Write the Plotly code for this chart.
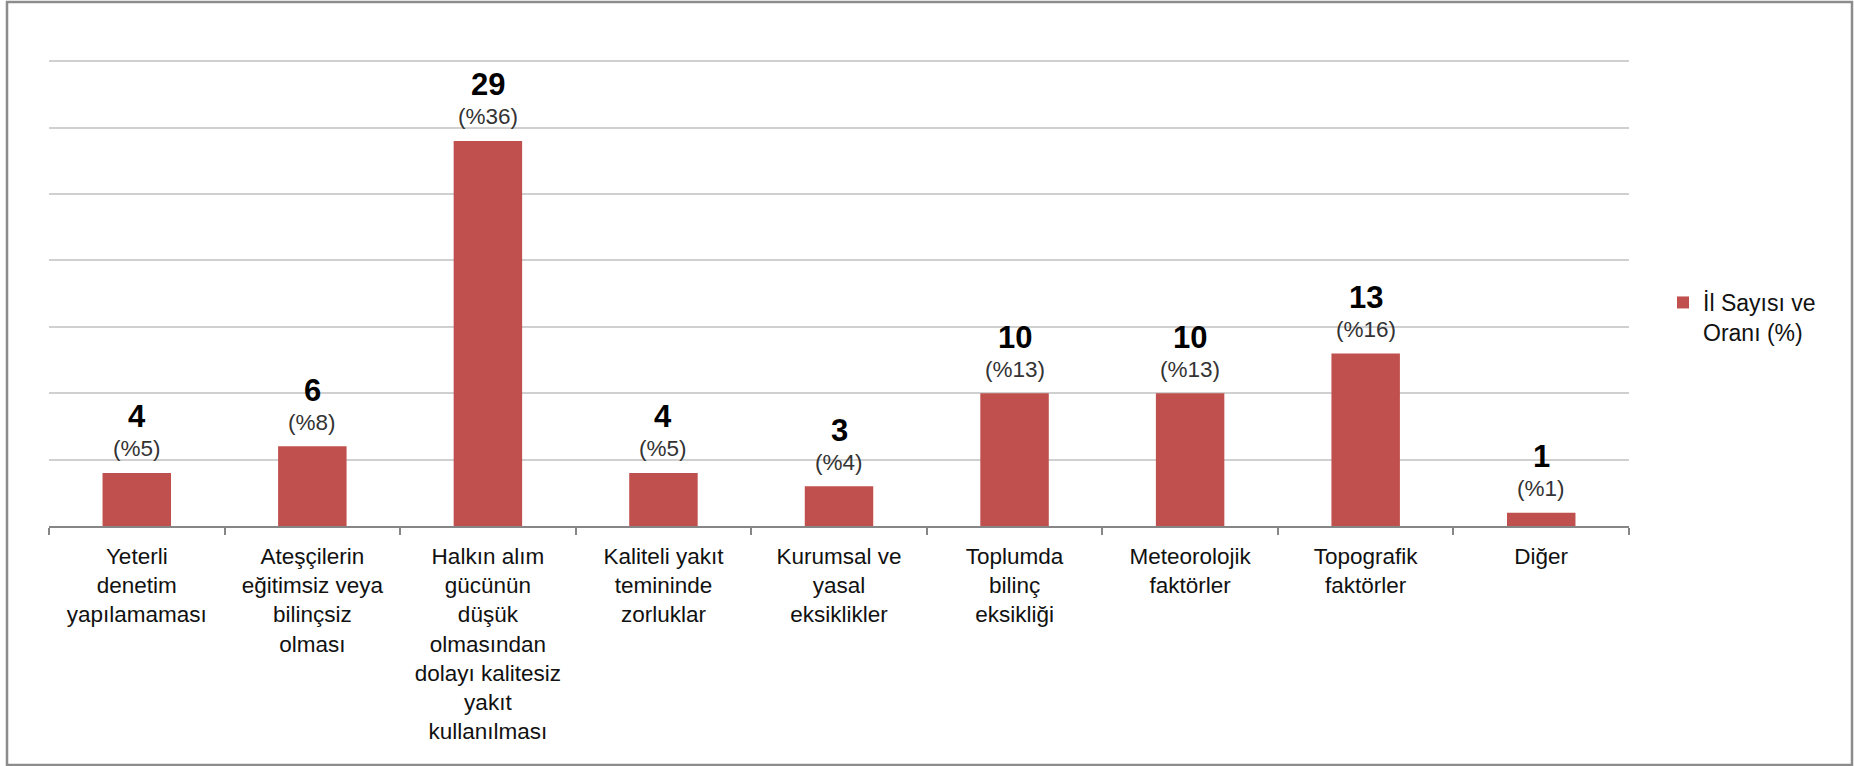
import plotly.graph_objects as go

categories = [
    "Yeterli<br>denetim<br>yapılamaması",
    "Ateşçilerin<br>eğitimsiz veya<br>bilinçsiz<br>olması",
    "Halkın alım<br>gücünün<br>düşük<br>olmasından<br>dolayı kalitesiz<br>yakıt<br>kullanılması",
    "Kaliteli yakıt<br>temininde<br>zorluklar",
    "Kurumsal ve<br>yasal<br>eksiklikler",
    "Toplumda<br>bilinç<br>eksikliği",
    "Meteorolojik<br>faktörler",
    "Topografik<br>faktörler",
    "Diğer",
]
counts = [4, 6, 29, 4, 3, 10, 10, 13, 1]
percents = [5, 8, 36, 5, 4, 13, 13, 16, 1]
series_name = "İl Sayısı ve<br>Oranı (%)"
y_max = 35
y_step = 5

W, H = 1854, 766
L, R, T, B = 49, 1629, 60, 526
FONT = "Liberation Sans, Arial, sans-serif"
BAR = "#C0504D"

fig = go.Figure()
fig.add_trace(go.Bar(
    x=categories, y=counts, name=series_name,
    marker=dict(color=BAR, line=dict(width=0)),
    showlegend=True, hoverinfo="skip",
))

annotations = []
for c, v, p in zip(categories, counts, percents):
    annotations.append(dict(x=c, y=v, xref="x", yref="y", text=f"(%{p})",
                            showarrow=False, yanchor="middle", yshift=24,
                            font=dict(family=FONT, size=22.5, color="#333333")))
    annotations.append(dict(x=c, y=v, xref="x", yref="y", text=f"<b>{v}</b>",
                            showarrow=False, yanchor="middle", yshift=56,
                            font=dict(family=FONT, size=31, color="#000000")))

pw, ph = R - L, B - T
def px(xp):
    return (xp - L) / pw
def py(yp):
    return (B - yp) / ph

fig.add_shape(type="rect", xref="paper", yref="paper",
              x0=px(7), x1=px(1852), y0=py(765), y1=py(2),
              line=dict(color="#8c8c8c", width=2.5), fillcolor="rgba(0,0,0,0)", layer="below")

fig.update_layout(
    width=W, height=H,
    margin=dict(l=L, r=W - R, t=T, b=H - B, pad=0),
    paper_bgcolor="white", plot_bgcolor="white",
    bargap=0.61,
    font=dict(family=FONT, size=22, color="#111111"),
    annotations=annotations,
    legend=dict(x=px(1663), y=py(281), xanchor="left", yanchor="top",
                valign="top", font=dict(family=FONT, size=23, color="#111111"),
                bgcolor="rgba(0,0,0,0)", itemclick=False, itemdoubleclick=False),
    xaxis=dict(
        tickson="boundaries", ticks="outside", ticklen=7, tickwidth=1.5, tickcolor="#868686",
        showline=True, linecolor="#868686", linewidth=1.5,
        showgrid=False, tickfont=dict(family=FONT, size=22.5, color="#111111"),
        ticklabelstandoff=9, fixedrange=True,
    ),
    yaxis=dict(
        range=[0, y_max + 0.1], tick0=0, dtick=y_step, showticklabels=False, ticks="",
        showgrid=True, gridcolor="#d0d0d0", gridwidth=1.5,
        zeroline=False, showline=False, fixedrange=True,
    ),
)

fig.write_html("out.html", config={"displayModeBar": False},
               post_script="document.body.style.margin='0';document.body.style.overflow='hidden';")
